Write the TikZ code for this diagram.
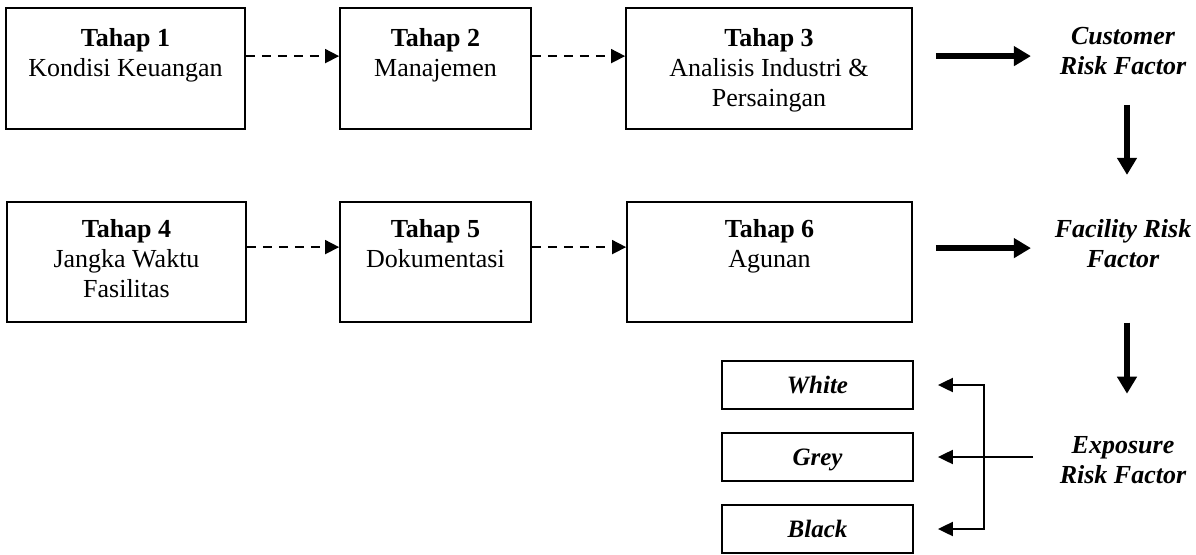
\documentclass[tikz,border=0pt]{standalone}
\usepackage{fontspec}
\setmainfont{Liberation Serif}
\usetikzlibrary{arrows.meta}
\begin{document}
\begin{tikzpicture}[x=1pt,y=-1pt,
  every node/.style={font=\fontsize{26}{30}\selectfont, inner sep=0pt},
  box/.style={draw, line width=1.8pt, rectangle},
  lbl/.style={align=center, anchor=north},
  rf/.style={align=center, anchor=north, font=\fontsize{26}{30}\selectfont\bfseries\itshape},
  cat/.style={box, minimum width=191pt, text height=17pt, text depth=0pt, font=\fontsize{25}{30}\selectfont\bfseries\itshape},
  dasharrow/.style={line width=1.7pt, dash pattern=on 9pt off 7pt, -{Triangle[length=14pt,width=14pt]}},
  bigarrow/.style={line width=6pt, -{Triangle[length=17pt,width=19pt]}},
  thinarrow/.style={line width=2pt, line join=miter, -{Triangle[length=15pt,width=14pt]}}
  ]
\useasboundingbox[fill=white] (0,0) rectangle (1196,554);

% stage boxes
\node[box, minimum width=239pt, minimum height=121pt] (b1) at (125.5,68.5) {};
\node[box, minimum width=191pt, minimum height=121pt] (b2) at (435.5,68.5) {};
\node[box, minimum width=286pt, minimum height=121pt] (b3) at (769,68.5) {};
\node[box, minimum width=239pt, minimum height=120pt] (b4) at (126.5,262) {};
\node[box, minimum width=191pt, minimum height=120pt] (b5) at (435.5,262) {};
\node[box, minimum width=285pt, minimum height=120pt] (b6) at (769.5,262) {};

% stage texts
\node[lbl] (t1) at (125.5,28) {\textbf{Tahap 1}\\Kondisi Keuangan};
\node[lbl] (t2) at (435.5,28) {\textbf{Tahap 2}\\Manajemen};
\node[lbl] (t3) at (769,28) {\textbf{Tahap 3}\\Analisis Industri \&\\Persaingan};
\node[lbl] (t4) at (126.5,219) {\textbf{Tahap 4}\\Jangka Waktu\\Fasilitas};
\node[lbl] (t5) at (435.5,219) {\textbf{Tahap 5}\\Dokumentasi};
\node[lbl] (t6) at (769.5,219) {\textbf{Tahap 6}\\Agunan};

% dashed connectors
\draw[dasharrow] ([yshift=-49pt]b1.north east) -- ([yshift=-49pt]b2.north west);
\draw[dasharrow] ([yshift=-49pt]b2.north east) -- ([yshift=-49pt]b3.north west);
\draw[dasharrow] ([yshift=-46pt]b4.north east) -- ([yshift=-46pt]b5.north west);
\draw[dasharrow] ([yshift=-46pt]b5.north east) -- ([yshift=-46pt]b6.north west);

% risk factor texts
\node[rf] (cust) at (1123,27) {Customer\\Risk Factor};
\node[rf] (fac) at (1123,219) {Facility Risk\\Factor};
\node[rf] (expo) at (1123,436) {Exposure\\Risk Factor};

% thick arrows
\draw[bigarrow] ([xshift=23pt,yshift=-49pt]b3.north east) -- ++(95,0);
\draw[bigarrow] ([xshift=23pt,yshift=-47pt]b6.north east) -- ++(95,0);
\draw[bigarrow] ([xshift=4pt,yshift=-30pt]cust.south) -- ++(0,70);
\draw[bigarrow] ([xshift=4pt,yshift=-55pt]fac.south) -- ++(0,71);

% category boxes
\node[cat, minimum height=48pt] (white) at (817.5,385) {White};
\node[cat, minimum height=48pt] (grey) at (817.5,457) {Grey};
\node[cat, minimum height=48pt] (black) at (817.5,529) {Black};

% exposure connector
\coordinate (jt) at (984,385);
\coordinate (jb) at (984,529);
\coordinate (gs) at (1033,457);
\draw[thinarrow] (jb) -- (jt) -- ([xshift=24pt]white.east);
\draw[thinarrow] (jt) -- (jb) -- ([xshift=24pt]black.east);
\draw[thinarrow] (gs) -- ([xshift=24pt]grey.east);
\end{tikzpicture}
\end{document}
